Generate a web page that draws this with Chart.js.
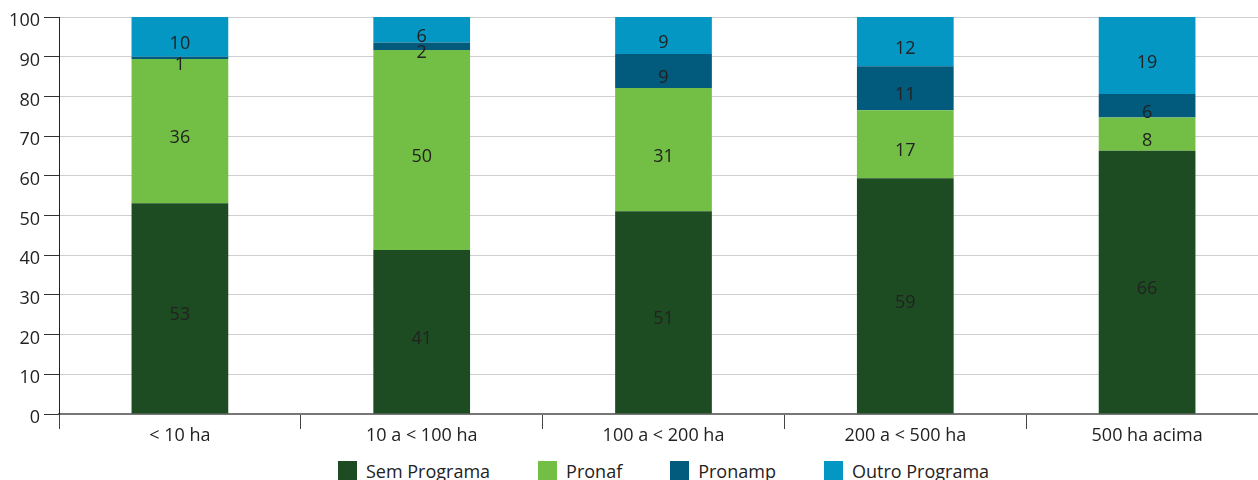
<!DOCTYPE html>
<html>
<head>
<meta charset="utf-8">
<script src="https://cdn.jsdelivr.net/npm/chart.js@4.4.1/dist/chart.umd.min.js"></script>
<style>
  html, body { margin: 0; padding: 0; background: #fff; overflow: hidden; }
  #wrap { position: absolute; left: 0; top: 0; width: 1270px; height: 451px; }
  #legend { position: absolute; top: 461px; display: flex; justify-content: center;
            font-family: "Open Sans", sans-serif; font-size: 18px; color: #222; }
  #legend .item { display: flex; align-items: flex-start; margin: 0 24px; }
  #legend .box { width: 19px; height: 22px; margin-right: 9px; }
  #legend .txt { line-height: 20px; white-space: nowrap; }
</style>
</head>
<body>
<div id="wrap"><canvas id="myChart"></canvas></div>
<div id="legend"></div>
<script>
// categorias (tamanho da propriedade)
const labels = ['< 10 ha', '10 a < 100 ha', '100 a < 200 ha', '200 a < 500 ha', '500 ha acima'];

// valores em %
const semPrograma   = [53.1, 41.3, 51.1, 59.4, 66.3];
const pronaf        = [36.3, 50.4, 31.0, 17.1, 8.4];
const pronamp       = [0.6, 1.9, 8.6, 11.1, 5.9];
const outroPrograma = [10.0, 6.4, 9.3, 12.4, 19.4];

const yTicks = [0, 10, 20, 30, 40, 50, 60, 70, 80, 90, 100];

Chart.defaults.font.family = '"Open Sans", sans-serif';
Chart.defaults.font.size = 18;
Chart.defaults.color = '#222';

// numeros dentro de cada segmento
const segmentLabels = {
    id: 'segmentLabels',
    afterDatasetsDraw(chart) {
        const ctx = chart.ctx;
        ctx.save();
        ctx.font = '18px "Open Sans", sans-serif';
        ctx.fillStyle = '#222';
        ctx.textAlign = 'center';
        ctx.textBaseline = 'middle';
        chart.data.datasets.forEach((ds, i) => {
            chart.getDatasetMeta(i).data.forEach((bar, j) => {
                const p = bar.getProps(['x', 'y', 'base'], true);
                ctx.fillText(Math.round(ds.data[j]), p.x, (p.y + p.base) / 2 + 7);
            });
        });
        ctx.restore();
    }
};

const data = {
    labels: labels,
    datasets: [{
        label: 'Sem Programa',
        backgroundColor: '#1e4c22',
        data: semPrograma,
    }, {
        label: 'Pronaf',
        backgroundColor: '#73bf45',
        data: pronaf,
    }, {
        label: 'Pronamp',
        backgroundColor: '#025a7c',
        data: pronamp,
    }, {
        label: 'Outro Programa',
        backgroundColor: '#0497c3',
        data: outroPrograma,
    }]
};

const config = {
    type: 'bar',
    data: data,
    options: {
        responsive: true,
        maintainAspectRatio: false,
        animation: false,
        datasets: {
            bar: { categoryPercentage: 1, barPercentage: 0.4 }
        },
        layout: { padding: { top: 17, right: 2, left: 0, bottom: 0 } },
        plugins: {
            legend: { display: false },
            tooltip: { enabled: false }
        },
        scales: {
            x: {
                stacked: true,
                afterFit: (s) => { s.height = 37; },
                border: { color: '#777', width: 1.5 },
                grid: {
                    offset: true,
                    drawOnChartArea: false,
                    tickLength: 15,
                    tickColor: '#444'
                },
                ticks: { padding: -4, color: '#222' }
            },
            y: {
                stacked: true,
                min: 0,
                max: 100,
                afterFit: (s) => { s.width = 59; },
                afterBuildTicks: (s) => { s.ticks = yTicks.map(v => ({ value: v })); },
                border: { color: '#222', width: 1 },
                grid: {
                    color: (c) => c.tick && c.tick.value === 0 ? '#777' : '#cfcfcf',
                    tickColor: '#333',
                    tickLength: 15
                },
                ticks: { padding: 4, labelOffset: 4, color: '#222' }
            }
        }
    },
    plugins: [segmentLabels]
};

var myChart = new Chart(document.getElementById('myChart'), config);

// legenda em html, centrada na area do grafico
const legendEl = document.getElementById('legend');
legendEl.style.left = myChart.chartArea.left + 'px';
legendEl.style.width = (myChart.chartArea.right - myChart.chartArea.left) + 'px';
data.datasets.forEach(ds => {
    const item = document.createElement('div');
    item.className = 'item';
    item.innerHTML = `<span class="box" style="background:${ds.backgroundColor}"></span><span class="txt">${ds.label}</span>`;
    legendEl.appendChild(item);
});
</script>
</body>
</html>
